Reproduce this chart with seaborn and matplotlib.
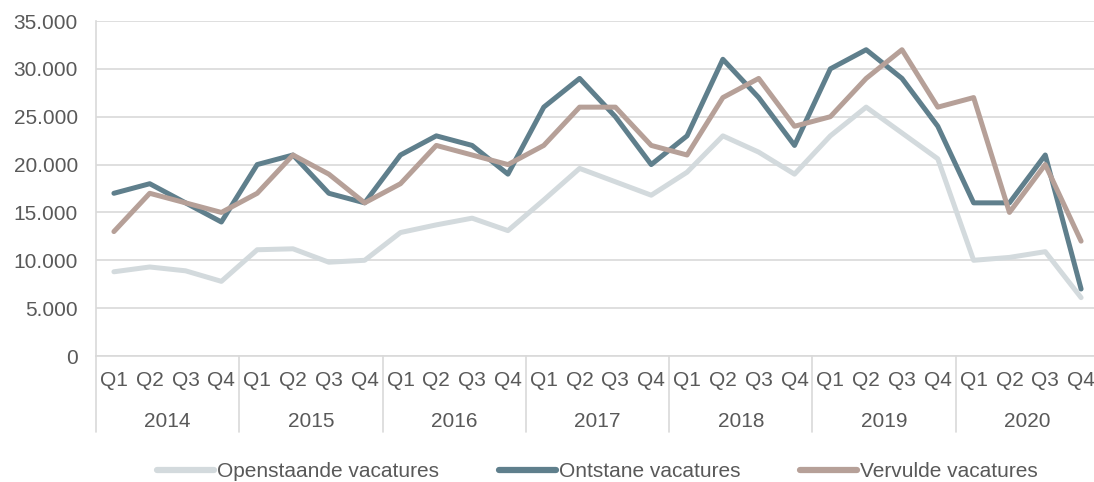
import matplotlib
matplotlib.use("Agg")
import matplotlib.pyplot as plt
import matplotlib.transforms as mtransforms
import seaborn as sns
import numpy as np
import pandas as pd

YEARS = ["2014", "2015", "2016", "2017", "2018", "2019", "2020"]
QUARTERS = ["Q1", "Q2", "Q3", "Q4"]

openstaande = [8800, 9300, 8900, 7800, 11100, 11200, 9800, 10000,
               12900, 13700, 14400, 13100, 16300, 19600, 18200, 16800,
               19200, 23000, 21300, 19000, 23000, 26000, 23300, 20600,
               10000, 10300, 10900, 6100]
ontstane = [17000, 18000, 16000, 14000, 20000, 21000, 17000, 16000,
            21000, 23000, 22000, 19000, 26000, 29000, 25000, 20000,
            23000, 31000, 27000, 22000, 30000, 32000, 29000, 24000,
            16000, 16000, 21000, 7000]
vervulde = [13000, 17000, 16000, 15000, 17000, 21000, 19000, 16000,
            18000, 22000, 21000, 20000, 22000, 26000, 26000, 22000,
            21000, 27000, 29000, 24000, 25000, 29000, 32000, 26000,
            27000, 15000, 20000, 12000]

SERIES = ["Openstaande vacatures", "Ontstane vacatures", "Vervulde vacatures"]
COLORS = ["#d3dadd", "#5f7f8c", "#b6a098"]

n = len(openstaande)
df = pd.DataFrame({
    "idx": np.tile(np.arange(n), 3),
    "waarde": openstaande + ontstane + vervulde,
    "reeks": np.repeat(SERIES, n),
})

sns.set_style("white")
plt.rcParams["font.family"] = ["Liberation Sans", "DejaVu Sans"]
TXT = "#595959"
GRID = "#d9d9d9"
FS = 15

fig = plt.figure(figsize=(10.94, 4.82), dpi=100)
ax = fig.add_axes([96 / 1094, 1 - 356 / 482, 1003 / 1094, 335 / 482])

sns.lineplot(data=df, x="idx", y="waarde", hue="reeks", hue_order=SERIES,
             palette=COLORS, linewidth=3.6, ax=ax, legend=True)

ax.set_xlim(-0.5, n - 0.5)
ax.set_ylim(0, 35000)
ax.set_yticks(np.arange(0, 35001, 5000))
ax.set_yticklabels([f"{v:,}".replace(",", ".") for v in range(0, 35001, 5000)],
                   color=TXT, fontsize=FS)
ax.yaxis.grid(True, color=GRID, linewidth=1.2)
ax.set_axisbelow(True)
for s in ["top", "right"]:
    ax.spines[s].set_visible(False)
ax.spines["left"].set_color(GRID)
ax.spines["left"].set_linewidth(1.2)
ax.spines["bottom"].set_color(GRID)
ax.spines["bottom"].set_linewidth(1.2)
ax.tick_params(axis="y", length=0, pad=13)
ax.tick_params(axis="x", length=0, pad=11)

ax.set_xticks(np.arange(n))
ax.set_xticklabels(QUARTERS * len(YEARS), color=TXT, fontsize=FS)
ax.set_xlabel("")
ax.set_ylabel("")

# jaarlabels en scheidingslijnen onder de kwartalen
trans = mtransforms.blended_transform_factory(ax.transData, ax.transAxes)
for i, yr in enumerate(YEARS):
    ax.text(i * 4 + 1.5, -0.195, yr, transform=trans, ha="center", va="center",
            color=TXT, fontsize=FS)
for b in range(len(YEARS)):
    ax.plot([b * 4 - 0.5, b * 4 - 0.5], [0, -0.227], transform=trans,
            color=GRID, linewidth=1.2, clip_on=False)

leg = ax.legend(loc="center", bbox_to_anchor=(0.5, -0.345), ncol=3, frameon=False,
                fontsize=FS, handlelength=2.75, handletextpad=0.15, columnspacing=2.85)
for t in leg.get_texts():
    t.set_color(TXT)
for h in leg.get_lines():
    h.set_linewidth(4.5)

fig.savefig("out.png", dpi=100)
